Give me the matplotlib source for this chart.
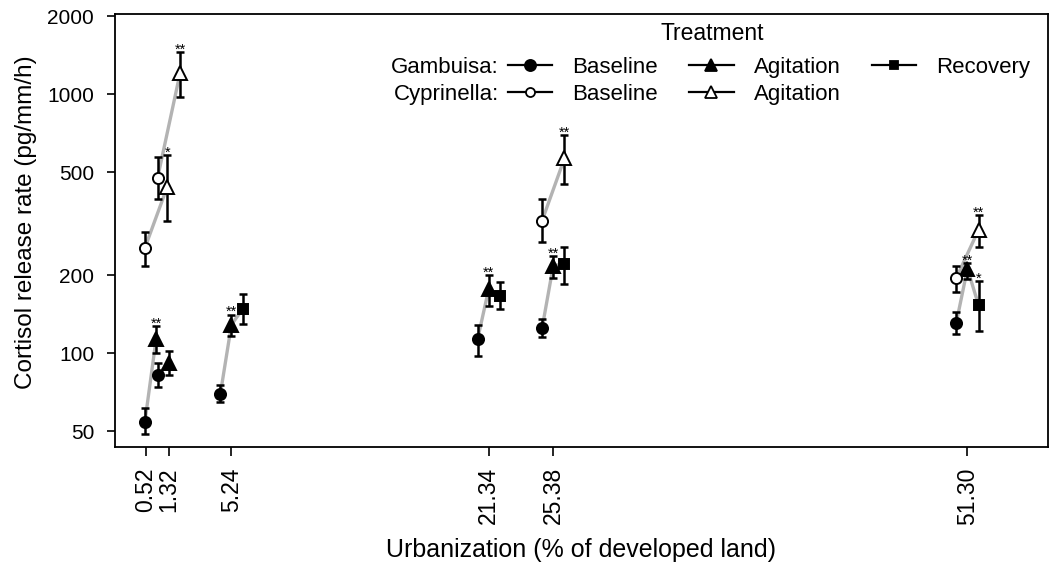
import matplotlib
matplotlib.use("Agg")
import matplotlib.pyplot as plt
from matplotlib.lines import Line2D
import numpy as np

plt.rcParams['font.family'] = ['Liberation Sans', 'DejaVu Sans']

# sites (% developed land)
urban = [0.52, 1.32, 5.24, 21.34, 25.38, 51.30]
tick_labels = ['0.52', '1.32', '5.24', '21.34', '25.38', '51.30']
tick_pos = [-0.12, 1.32, 5.24, 21.34, 25.38, 51.30]  # 0.52 label nudged left so it does not sit on 1.32

nan = np.nan
# Gambusia: mean, lower, upper
gam_base = [54.3, 82.2, 69.4, 113, 125, 131]
gam_base_lo = [48.7, 73.8, 64.6, 97.5, 115, 119]
gam_base_hi = [61.3, 91.4, 75.2, 129, 135, 144]
gam_agit = [113, 91.9, 129, 177, 218, 212]
gam_agit_lo = [99.8, 82.2, 116, 152, 195, 194]
gam_agit_hi = [127, 101.6, 141, 200, 237, 223]
gam_agit_sig = ['**', '', '**', '**', '**', '**']
gam_rec = [nan, nan, 148, 167, 221, 153]
gam_rec_lo = [nan, nan, 130, 148, 185, 122]
gam_rec_hi = [nan, nan, 170, 188, 258, 190]
gam_rec_sig = ['', '', '', '', '', '*']

# Cyprinella
cyp_base = [255, 477, nan, nan, 325, 195]
cyp_base_lo = [218, 394, nan, nan, 268, 172]
cyp_base_hi = [295, 573, nan, nan, 394, 218]
cyp_agit = [439, 1206, nan, nan, 566, 300]
cyp_agit_lo = [325, 975, nan, nan, 449, 258]
cyp_agit_hi = [583, 1453, nan, nan, 696, 342]
cyp_agit_sig = ['*', '**', '', '', '**', '**']

dodge = 0.7

fig = plt.figure(figsize=(10.56, 5.68), dpi=100)
ax = fig.add_axes([0.1089, 0.213, 0.8835, 0.7624])
ax.set_yscale('log')

x = np.array(urban)

def series(means, lo, hi, off, marker, fill, ms, sig=None):
    m = np.array(means, dtype=float)
    l = np.array(lo, dtype=float)
    h = np.array(hi, dtype=float)
    xs = x + off
    ax.errorbar(xs, m, yerr=[m - l, h - m], fmt='none', ecolor='black',
                elinewidth=1.8, capsize=3.2, capthick=1.8, zorder=3)
    ax.plot(xs, m, linestyle='none', marker=marker, ms=ms, mfc=fill,
            mec='black', mew=1.4, zorder=4)
    if sig is not None:
        for xi, hi_i, s in zip(xs, h, sig):
            if s:
                ax.annotate(s, (xi, hi_i), xytext=(0, -1), textcoords='offset points',
                            ha='center', va='baseline', fontsize=10.5, zorder=5)

# grey connecting lines (baseline -> agitation -> recovery)
for i in range(len(urban)):
    gx = [x[i] - dodge, x[i], x[i] + dodge]
    gy = [gam_base[i], gam_agit[i], gam_rec[i]]
    pts = [(a, b) for a, b in zip(gx, gy) if not np.isnan(b)]
    ax.plot([p[0] for p in pts], [p[1] for p in pts], color='#b3b3b3', lw=2.4, zorder=2)
    if not np.isnan(cyp_base[i]):
        ax.plot([x[i] - dodge, x[i] + dodge], [cyp_base[i], cyp_agit[i]],
                color='#b3b3b3', lw=2.4, zorder=2)

series(gam_base, gam_base_lo, gam_base_hi, -dodge, 'o', 'black', 8)
series(gam_agit, gam_agit_lo, gam_agit_hi, 0, '^', 'black', 9.5, gam_agit_sig)
series(gam_rec, gam_rec_lo, gam_rec_hi, dodge, 's', 'black', 7, gam_rec_sig)
series(cyp_base, cyp_base_lo, cyp_base_hi, -dodge, 'o', 'white', 8)
series(cyp_agit, cyp_agit_lo, cyp_agit_hi, dodge, '^', 'white', 10.5, cyp_agit_sig)

ax.set_xlim(-2.05, 56.34)
ax.set_ylim(43.4, 2044)
ax.set_yticks([50, 100, 200, 500, 1000, 2000])
ax.set_yticklabels(['50', '100', '200', '500', '1000', '2000'])
ax.yaxis.set_minor_locator(matplotlib.ticker.NullLocator())
ax.set_xticks(tick_pos)
ax.set_xticklabels(tick_labels, rotation=90)
ax.tick_params(axis='y', length=6, width=1.2, labelsize=15, pad=9)
ax.tick_params(axis='x', length=6.5, width=1.2, labelsize=16.5, pad=8)
for s in ax.spines.values():
    s.set_linewidth(1.3)

ax.set_xlabel('Urbanization (% of developed land)', fontsize=18, labelpad=10)
ax.set_ylabel('Cortisol release rate (pg/mm/h)', fontsize=17.5)
ax.yaxis.set_label_coords(-0.084, 0.52)

# legend
def h(marker, fill, ms):
    return Line2D([], [], color='black', lw=1.6, marker=marker, mfc=fill, mec='black', mew=1.3, ms=ms)

blank = Line2D([], [], linestyle='none')
handles = [h('o', 'black', 8), h('o', 'white', 6.5), h('^', 'black', 8.5),
           h('^', 'white', 9), h('s', 'black', 6), blank]
labels = ['Baseline', 'Baseline', 'Agitation', 'Agitation', 'Recovery', '']
leg = ax.legend(handles, labels, ncol=3, frameon=False, fontsize=16,
                loc='upper left', bbox_to_anchor=(508 / 1056, 1 - 57 / 568),
                bbox_transform=fig.transFigure, borderpad=0, handlelength=2.0,
                handletextpad=0.9, columnspacing=1.4, labelspacing=0.25,
                borderaxespad=0)

fig.canvas.draw()
inv = fig.transFigure.inverted()
texts = leg.get_texts()
fs_px = 16 * 100 / 72
for t, name in [(texts[0], 'Gambuisa:'), (texts[1], 'Cyprinella:')]:
    bb = t.get_window_extent()
    xr = bb.x0 - (2.0 + 0.9) * fs_px - 9
    yc = (bb.y0 + bb.y1) / 2
    fx, fy = inv.transform((xr, yc))
    fig.text(fx, fy, name, ha='right', va='center', fontsize=16)

fig.canvas.draw()
sp = [t for t in fig.texts if t.get_text() == 'Cyprinella:'][0].get_window_extent()
right = texts[4].get_window_extent().x1
cx = (sp.x0 + right) / 2
fx, _ = inv.transform((cx, 0))
fig.text(fx, 1 - 33 / 568, 'Treatment', ha='center', va='center', fontsize=16.5)

fig.savefig('out.png', dpi=100)
